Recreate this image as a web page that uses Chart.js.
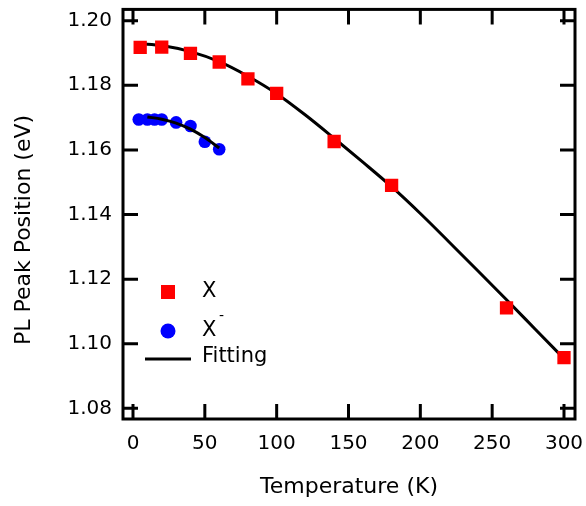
<!DOCTYPE html>
<html>
<head>
<meta charset="utf-8">
<script src="https://cdn.jsdelivr.net/npm/chart.js@4.4.0/dist/chart.umd.min.js"></script>
<style>
  html, body { margin: 0; padding: 0; background: #fff; }
  #wrap { width: 586px; height: 506px; }
</style>
</head>
<body>
<div id="wrap"><canvas id="chart" width="586" height="506"></canvas></div>
<script>
// tick labels
const xTickValues = [0, 50, 100, 150, 200, 250, 300];
const yTickValues = [1.08, 1.10, 1.12, 1.14, 1.16, 1.18, 1.20];

// neutral exciton X
const tempX = [5, 20, 40, 60, 80, 100, 140, 180, 260, 300];
const peakX = [1.1917, 1.1918, 1.1899, 1.1872, 1.1820, 1.1775, 1.1626, 1.1490, 1.1111, 1.0957];

// trion X-
const tempTrion = [4, 10, 15, 20, 30, 40, 50, 60];
const peakTrion = [1.1694, 1.1694, 1.1694, 1.1694, 1.1685, 1.1674, 1.1625, 1.1602];

// fitting curves
const fitTempX = [5, 20, 40, 60, 80, 100, 120, 140, 160, 180, 200, 220, 240, 260, 280, 300];
const fitPeakX = [1.1929, 1.1923, 1.1904, 1.1873, 1.1828, 1.1774, 1.1708, 1.1636, 1.1562, 1.1486, 1.1403, 1.1315, 1.1226, 1.1136, 1.1045, 1.0954];
const fitTempTrion = [10, 20, 30, 40, 50, 60];
const fitPeakTrion = [1.1702, 1.1695, 1.1683, 1.1664, 1.1638, 1.1606];

const FONT = 'DejaVu Sans';
const toPoints = (xs, ys) => xs.map((x, i) => ({ x: x, y: ys[i] }));

// frame, inward ticks, axis titles and legend
const decorations = {
    id: 'decorations',
    afterDraw(chart) {
        const ctx = chart.ctx;
        const area = chart.chartArea;
        const xs = chart.scales.x;
        const ys = chart.scales.y;
        const tick = 15;

        ctx.save();
        ctx.strokeStyle = '#000';
        ctx.lineWidth = 3;
        ctx.strokeRect(area.left, area.top, area.right - area.left, area.bottom - area.top);

        ctx.beginPath();
        xTickValues.forEach(v => {
            const px = xs.getPixelForValue(v);
            ctx.moveTo(px, area.bottom);
            ctx.lineTo(px, area.bottom - tick);
            ctx.moveTo(px, area.top);
            ctx.lineTo(px, area.top + tick);
        });
        yTickValues.forEach(v => {
            const py = ys.getPixelForValue(v);
            ctx.moveTo(area.left, py);
            ctx.lineTo(area.left + tick, py);
            ctx.moveTo(area.right, py);
            ctx.lineTo(area.right - tick, py);
        });
        ctx.stroke();

        // axis titles
        ctx.fillStyle = '#000';
        ctx.font = '22px "' + FONT + '"';
        ctx.textAlign = 'center';
        ctx.textBaseline = 'middle';
        ctx.fillText('Temperature (K)', (area.left + area.right) / 2, 487);

        ctx.save();
        ctx.translate(24, 230);
        ctx.rotate(-Math.PI / 2);
        ctx.fillText('PL Peak Position (eV)', 0, 0);
        ctx.restore();

        // legend
        ctx.fillStyle = '#ff0000';
        ctx.fillRect(161, 285, 14, 14);
        ctx.fillStyle = '#0000ff';
        ctx.beginPath();
        ctx.arc(168, 331, 7.5, 0, Math.PI * 2);
        ctx.fill();
        ctx.beginPath();
        ctx.moveTo(145, 359);
        ctx.lineTo(191, 359);
        ctx.stroke();

        ctx.fillStyle = '#000';
        ctx.textAlign = 'left';
        ctx.font = '21px "' + FONT + '"';
        ctx.fillText('X', 202, 292);
        ctx.fillText('X', 202, 331);
        ctx.fillText('Fitting', 202, 357);
        ctx.font = '14px "' + FONT + '"';
        ctx.fillText('-', 219, 316);
        ctx.restore();
    }
};

new Chart(document.getElementById('chart'), {
    type: 'scatter',
    data: {
        datasets: [
            {
                label: 'X',
                data: toPoints(tempX, peakX),
                pointStyle: 'rect',
                pointRadius: 9.4,
                pointHoverRadius: 9.4,
                backgroundColor: '#ff0000',
                borderWidth: 0,
                order: 0
            },
            {
                label: 'Fitting',
                data: toPoints(fitTempX, fitPeakX),
                showLine: true,
                pointRadius: 0,
                borderColor: '#000',
                borderWidth: 3,
                cubicInterpolationMode: 'monotone',
                order: 1
            },
            {
                label: 'Fitting X-',
                data: toPoints(fitTempTrion, fitPeakTrion),
                showLine: true,
                pointRadius: 0,
                borderColor: '#000',
                borderWidth: 3,
                cubicInterpolationMode: 'monotone',
                order: 1
            },
            {
                label: 'X-',
                data: toPoints(tempTrion, peakTrion),
                pointStyle: 'circle',
                pointRadius: 6.3,
                pointHoverRadius: 6.3,
                backgroundColor: '#0000ff',
                borderWidth: 0,
                order: 2
            }
        ]
    },
    options: {
        responsive: false,
        animation: false,
        devicePixelRatio: 1,
        layout: { padding: { top: 7, right: 11, left: 0, bottom: 0 } },
        plugins: {
            legend: { display: false },
            tooltip: { enabled: false }
        },
        scales: {
            x: {
                type: 'linear',
                min: -6.96,
                max: 307.66,
                grid: { display: false, drawTicks: false },
                border: { display: false },
                ticks: {
                    autoSkip: false,
                    maxRotation: 0,
                    padding: 13,
                    color: '#000',
                    font: { family: FONT, size: 20 },
                    callback: v => String(v)
                },
                afterBuildTicks: scale => {
                    scale.ticks = xTickValues.map(v => ({ value: v }));
                },
                afterFit: scale => {
                    scale.height = 87;
                    scale.paddingLeft = 0;
                    scale.paddingRight = 0;
                }
            },
            y: {
                type: 'linear',
                min: 1.07671,
                max: 1.20348,
                grid: { display: false, drawTicks: false },
                border: { display: false },
                ticks: {
                    autoSkip: false,
                    padding: 11,
                    color: '#000',
                    font: { family: FONT, size: 20 },
                    callback: v => v.toFixed(2)
                },
                afterBuildTicks: scale => {
                    scale.ticks = yTickValues.map(v => ({ value: v }));
                },
                afterFit: scale => {
                    scale.width = 123;
                    scale.paddingTop = 0;
                    scale.paddingBottom = 0;
                }
            }
        }
    },
    plugins: [decorations]
});
</script>
</body>
</html>
